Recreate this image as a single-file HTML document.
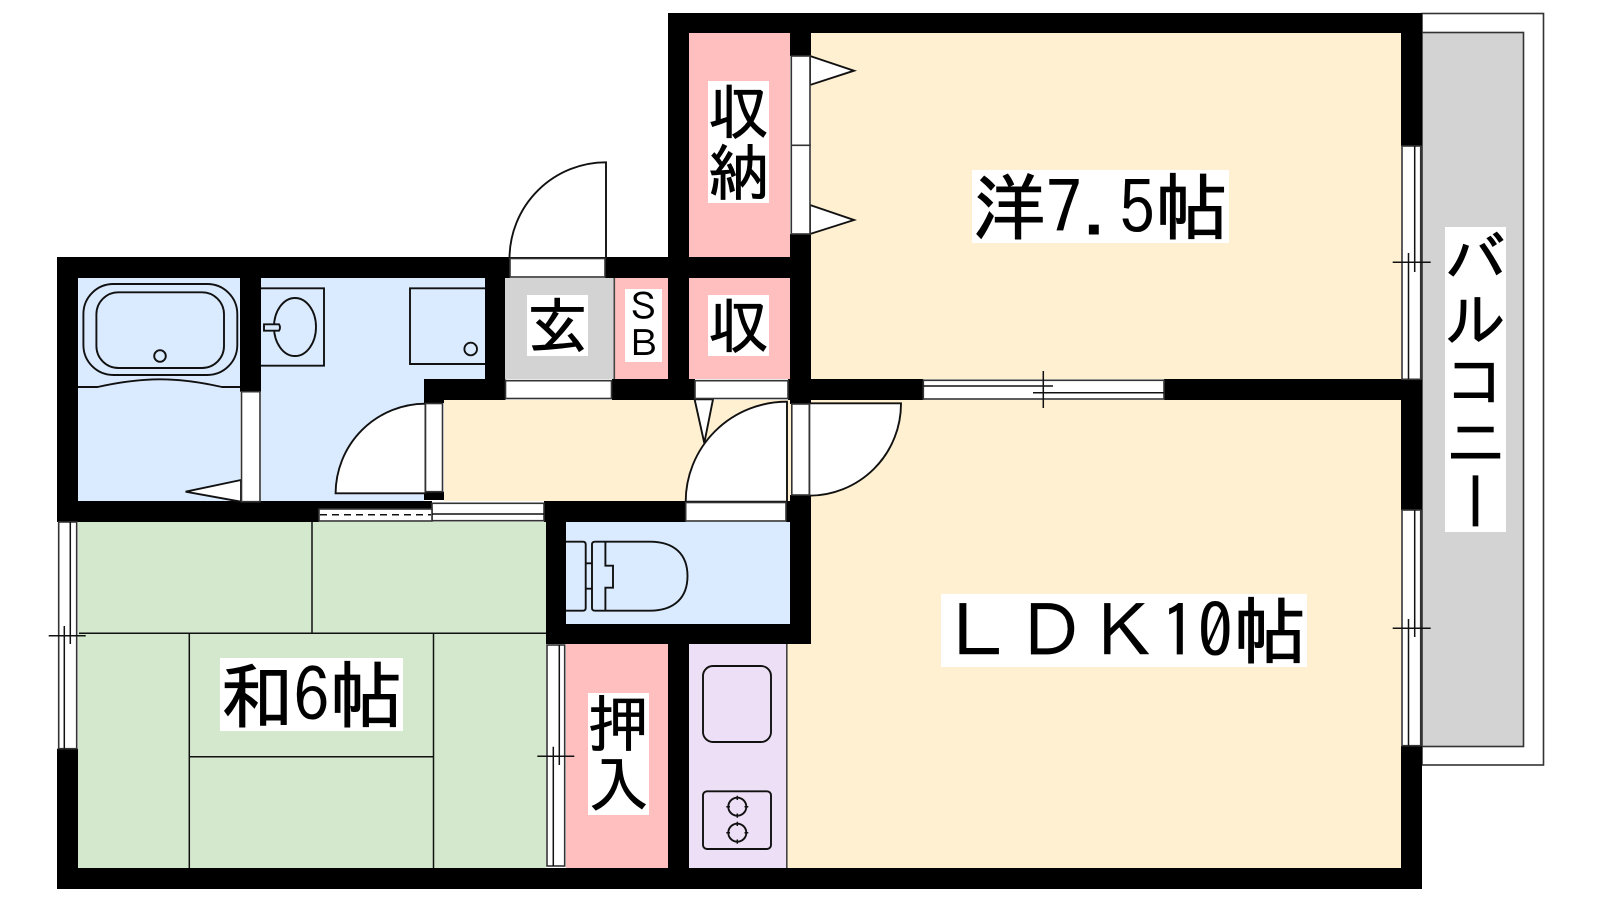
<!DOCTYPE html>
<html lang="ja"><head><meta charset="utf-8"><title>間取り図</title>
<style>
html,body{margin:0;padding:0;background:#fff;width:1600px;height:900px;overflow:hidden}
svg{position:absolute;left:0;top:0}
.t{position:absolute;background:#fff;color:#000;font-family:"Liberation Sans","IPAGothic","Noto Sans CJK JP",sans-serif;white-space:nowrap;text-align:center}
.j{font-family:"IPAGothic","Noto Sans CJK JP",sans-serif}
.b{font-size:73px;line-height:73px;height:73px;-webkit-text-stroke:1px #000}
.b span{-webkit-text-stroke:.1px #000}
.v{font-size:61px;line-height:61px;width:61px;-webkit-text-stroke:.8px #000}
</style></head><body>
<svg width="1600" height="900" viewBox="0 0 1600 900">
<g fill="#fff" stroke="#333" stroke-width="1.6">
<rect x="1422" y="13.5" width="121.5" height="751.5"/>
</g>
<rect x="1422" y="32.5" width="101.5" height="714" fill="#d3d3d3" stroke="#333" stroke-width="1.6"/>
<!-- rooms -->
<g>
<rect x="811" y="33" width="590" height="346" fill="#fef0d0"/>
<rect x="787" y="400" width="614" height="468" fill="#fef0d0"/>
<rect x="444" y="400" width="344" height="101" fill="#fef0d0"/>
<rect x="689" y="33" width="101" height="224" fill="#ffbfbf"/>
<rect x="689" y="278" width="101" height="101" fill="#ffbfbf"/>
<rect x="615" y="278" width="53" height="101" fill="#ffbfbf"/>
<rect x="505" y="278" width="108.500" height="101" fill="#d3d3d3"/>
<rect x="566" y="644" width="102" height="224" fill="#ffbfbf"/>
<rect x="689" y="644" width="98" height="224" fill="#eddff5"/>
<rect x="78" y="278" width="162" height="223" fill="#dbebff"/>
<rect x="261" y="278" width="224" height="101" fill="#dbebff"/>
<rect x="261" y="379" width="163" height="122" fill="#dbebff"/>
<rect x="566" y="522" width="224" height="102" fill="#dbebff"/>
<rect x="78" y="522" width="468" height="346" fill="#d3e8cc"/>
</g>
<line x1="614.300" y1="278" x2="614.300" y2="379" stroke="#444" stroke-width="1.6"/>
<line x1="786.800" y1="644" x2="786.800" y2="868" stroke="#444" stroke-width="1.6"/>
<!-- tatami -->
<g stroke="#111" stroke-width="1.5" fill="none">
<path d="M79 633.300H546M312 522V633.300M189.300 633.300V868M433.500 633.300V868M189.300 756.700H433.500"/>
</g>
<!-- walls -->
<g fill="#000">
<rect x="668" y="13" width="754" height="20"/>
<rect x="668" y="13" width="21" height="265"/>
<rect x="790" y="13" width="21" height="43"/>
<rect x="790" y="234" width="21" height="166"/>
<rect x="1401" y="13" width="21" height="133"/>
<rect x="1401" y="379" width="21" height="131"/>
<rect x="1401" y="746" width="21" height="143"/>
<rect x="57" y="257" width="453" height="21"/>
<rect x="605" y="257" width="206" height="21"/>
<rect x="57" y="257" width="21" height="265"/>
<rect x="57" y="748.700" width="21" height="140.300"/>
<rect x="57" y="868" width="1365" height="21"/>
<rect x="57" y="501" width="262" height="21"/>
<rect x="319" y="501" width="113" height="8"/>
<rect x="544" y="501" width="142" height="21"/>
<rect x="786" y="501" width="25" height="21"/>
<rect x="240" y="257" width="21" height="134.700"/>
<rect x="485" y="257" width="20" height="143"/>
<rect x="424" y="379" width="81.500" height="21"/>
<rect x="612" y="379" width="83" height="21"/>
<rect x="788" y="379" width="135.300" height="21"/>
<rect x="1164" y="379" width="237" height="21"/>
<rect x="424" y="379" width="20" height="24"/>
<rect x="424" y="491.700" width="20" height="8.300"/>
<rect x="668" y="278" width="21" height="101"/>
<rect x="790" y="400" width="21" height="4"/>
<rect x="790" y="495" width="21" height="149"/>
<rect x="546" y="501" width="20" height="143"/>
<rect x="546" y="624" width="265" height="20"/>
<rect x="668" y="644" width="21" height="224"/>
</g>
<!-- doors & white fills -->
<g fill="#fff" stroke="#111" stroke-width="1.9">
<path d="M509.500 258A96.500 96.500 0 0 1 606 162.300V258Z"/>
<path d="M425.500 403.700A90 90 0 0 0 335.600 493.300H425.500Z"/>
<path d="M694.600 399.300H713L704.300 443Z"/>
<path d="M685.700 501.700A101 100 0 0 1 787 401.700V501.700Z"/>
<path d="M809.300 495.700A92 92 0 0 0 901 403.300H809.300Z"/>
<path d="M185.600 491.700L241 480V501.700Z"/>
<path d="M810 56L854 70.700L810 85Z"/>
<path d="M810 205L854 220L810 234Z"/>
</g>
<g fill="#fff" stroke="#333" stroke-width="1.6">
<rect x="510" y="258.500" width="95" height="18.500"/>
<rect x="505.500" y="380.700" width="106" height="17.800"/>
<rect x="695" y="380.700" width="93" height="17.800"/>
<rect x="685.700" y="502.500" width="100.300" height="18.500"/>
<rect x="241.500" y="391.700" width="18.500" height="110"/>
<rect x="425.500" y="403.500" width="17" height="88.200"/>
<rect x="791.800" y="404" width="17.500" height="91"/>
<rect x="791.300" y="56" width="18.700" height="89.300"/>
<rect x="791.300" y="145.300" width="18.700" height="88.700"/>
<!-- windows -->
<rect x="1402" y="146" width="18.700" height="233.300"/>
<rect x="1402" y="510" width="18.700" height="235.700"/>
<rect x="58.700" y="522" width="18" height="226.700"/>
<rect x="547" y="645" width="17.700" height="221"/>
<rect x="923.300" y="380.300" width="240.700" height="18.700"/>
<rect x="432" y="503.300" width="112" height="17.400"/>
<rect x="319" y="509" width="113" height="12"/>
</g>
<g stroke="#111" stroke-width="1.5" fill="none">
<path d="M1408.500 253V379M1414.700 146V272M1392.700 262.300H1430.700"/>
<path d="M1408.500 619V745.700M1414.700 510V637M1392.700 628.300H1430.700"/>
<path d="M64.300 626V748.700M70.300 522V644M48.700 635.700H85.700"/>
<path d="M553.300 746.700V866M559.300 645V765M537.300 756.300H574.300"/>
<path d="M923.300 386H1053M1033 392.700H1164M1043.300 371V408"/>
<path d="M432 514H544"/>
<path d="M320 514.700H431" stroke-dasharray="7 5"/>
</g>
<!-- fixtures -->
<g fill="none" stroke="#111" stroke-width="1.9">
<rect x="83.400" y="284" width="153.900" height="91" rx="30" ry="30"/>
<rect x="96.400" y="292.300" width="127.600" height="75.700" rx="22" ry="22"/>
<circle cx="160" cy="356" r="5.800"/>
<path d="M78 387H97.600C120 382 140 379.300 160 379.300C180 379.300 200 382 222 387H240"/>
<path d="M261 288.300H324V365.700H261"/>
<ellipse cx="295" cy="327" rx="21" ry="29"/>
<path d="M264 324.300H279Q281 327.500 279 330.700H264Z" fill="#dbebff"/>
<path d="M485 288.300H410V364H485"/>
<circle cx="470.700" cy="349" r="6.300"/>
<path d="M566 541.700H583Q585.700 541.700 585.700 544.500V608Q585.700 610.700 583 610.700H566"/>
<path d="M585.700 563.300H592M585.700 588.700H592"/>
<path d="M595 541.700H650C675 541.700 687.500 555 687.500 576C687.500 597 675 610.700 650 610.700H595Q592 610.700 592 608V544.500Q592 541.700 595 541.700Z"/>
<path d="M605.400 541.700V565.700H613V587.700H605.400V610.700"/>
<rect x="703" y="666" width="68" height="76" rx="10"/>
<rect x="703" y="791.300" width="68" height="57.700" rx="4"/>
<circle cx="737.300" cy="806.700" r="9"/>
<circle cx="737.300" cy="832.700" r="9"/>
<path d="M726.300 806.700H730M744.500 806.700H748.300M737.300 795.700V800M737.300 813.500V817.700M726.300 832.700H730M744.500 832.700H748.300M737.300 821.700V826M737.300 839.500V843.700" stroke-width="1.5"/>
</g>
</svg>
<div class="t j b" style="left:972px;top:170px;width:257px">洋<span>7.5</span>帖</div>
<div class="t j b" style="left:941px;top:594px;width:366px"><span>ＬＤＫ10</span>帖</div>
<div class="t j b" style="left:220px;top:658px;width:183px">和<span>6</span>帖</div>
<div class="t j v" style="left:708px;top:81px;height:122px">収<br>納</div>
<div class="t j v" style="left:708px;top:295px;height:61px">収</div>
<div class="t j v" style="left:527px;top:295px;height:61px">玄</div>
<div class="t j v" style="left:588px;top:693px;height:122px">押<br>入</div>
<div class="t j" style="left:625px;top:289px;width:37px;height:73px;font-size:37px;line-height:36.500px">Ｓ<br>Ｂ</div>
<div class="t j v" style="left:1445px;top:227px;height:305px;writing-mode:vertical-rl;text-orientation:upright;line-height:61px">バルコニー</div>
</body></html>
